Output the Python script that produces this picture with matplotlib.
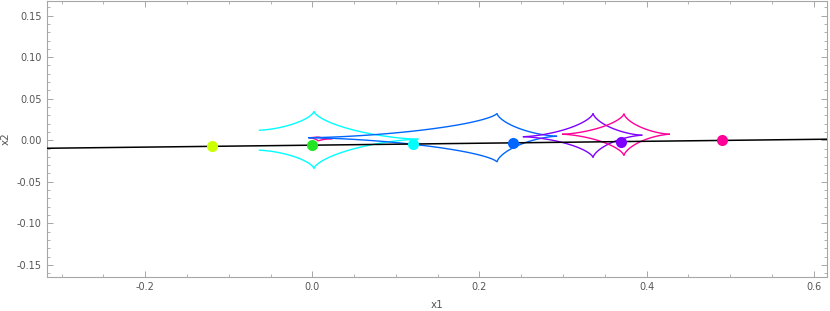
import numpy as np
import matplotlib
matplotlib.use('Agg')
import matplotlib.pyplot as plt
from matplotlib.ticker import MultipleLocator, FormatStrFormatter

# source track (black line) end points
track_x = [-0.318, 0.616]
track_y = [-0.0097, 0.0012]

# source positions along the track
src_x = [-0.12, 0.0, 0.1206, 0.2404, 0.3697, 0.4905]
src_y = [-0.0072, -0.0060, -0.0048, -0.0036, -0.0024, 0.0000]
src_colors = ['#ccff00', '#22e622', '#00ffff', '#0066ff', '#8000ff', '#ff0099']

# caustics: each arc runs from a horizontal cusp to a vertical cusp
cyan_arcs = [((-0.064, 0.012), (0.002, 0.0348)),
             ((-0.064, -0.012), (0.002, -0.0342)),
             ((0.127, 0.0012), (0.002, 0.0348)),
             ((0.127, 0.0012), (0.002, -0.0342))]
blue_arcs = [((-0.005, 0.003), (0.221, 0.0324)),
             ((-0.005, 0.003), (0.221, -0.0264)),
             ((0.293, 0.0048), (0.221, 0.0324)),
             ((0.293, 0.0048), (0.221, -0.0264))]
purple_arcs = [((0.252, 0.0042), (0.336, 0.0324)),
               ((0.252, 0.0042), (0.336, -0.021)),
               ((0.395, 0.006), (0.336, 0.0324)),
               ((0.395, 0.006), (0.336, -0.021))]
magenta_arcs = [((0.299, 0.0072), (0.373, 0.032)),
                ((0.299, 0.0072), (0.373, -0.0186)),
                ((0.428, 0.0072), (0.373, 0.032)),
                ((0.428, 0.0072), (0.373, -0.0186))]
small_arcs = [((-0.004, 0.003), (0.007, 0.0042)),
              ((-0.004, 0.003), (0.007, -0.0012)),
              ((0.024, 0.0018), (0.007, 0.0042)),
              ((0.024, 0.0018), (0.007, -0.0012))]

caustics = [(small_arcs, '#ff0099'), (cyan_arcs, '#00ffff'), (blue_arcs, '#0066ff'),
            (purple_arcs, '#8000ff'), (magenta_arcs, '#ff0099')]


def draw_arc(ax, h, v, color):
	# concave (astroid-like) arc between two cusps
	t = np.linspace(0, np.pi / 2, 80)
	x = v[0] + (h[0] - v[0]) * np.cos(t) ** 3
	y = h[1] + (v[1] - h[1]) * np.sin(t) ** 3
	ax.plot(x, y, color=color, lw=1.0, solid_capstyle='butt', zorder=2)


fig = plt.figure(figsize=(8.3, 3.11), dpi=100)
ax = fig.add_axes([0.0561, 0.1084, 0.9403, 0.8896])

for arcs, col in caustics:
	for h, v in arcs:
		draw_arc(ax, h, v, col)

ax.plot(track_x, track_y, color='black', lw=1.1, zorder=3)
for x, y, c in zip(src_x, src_y, src_colors):
	ax.plot(x, y, 'o', color=c, ms=8, mec='none', zorder=4)

ax.set_xlim(-0.318, 0.616)
ax.set_ylim(-0.165, 0.168)

ax.xaxis.set_major_locator(MultipleLocator(0.2))
ax.xaxis.set_minor_locator(MultipleLocator(0.05))
ax.yaxis.set_major_locator(MultipleLocator(0.05))
ax.yaxis.set_minor_locator(MultipleLocator(0.01))
ax.xaxis.set_major_formatter(FormatStrFormatter('%.1f'))
ax.yaxis.set_major_formatter(FormatStrFormatter('%.2f'))

for s in ax.spines.values():
	s.set_color('#a6a6a6')
	s.set_linewidth(0.8)
ax.tick_params(which='both', direction='in', top=True, right=True,
			   color='#a6a6a6', labelcolor='#555555', labelsize=7)
ax.tick_params(which='major', length=4, width=0.7)
ax.tick_params(which='minor', length=2.2, width=0.6)

ax.set_xlabel('x1', color='#555555', fontsize=7.5, labelpad=6)
ax.set_ylabel('x2', color='#555555', fontsize=7.5, labelpad=4)

fig.savefig('out.png', dpi=100)
